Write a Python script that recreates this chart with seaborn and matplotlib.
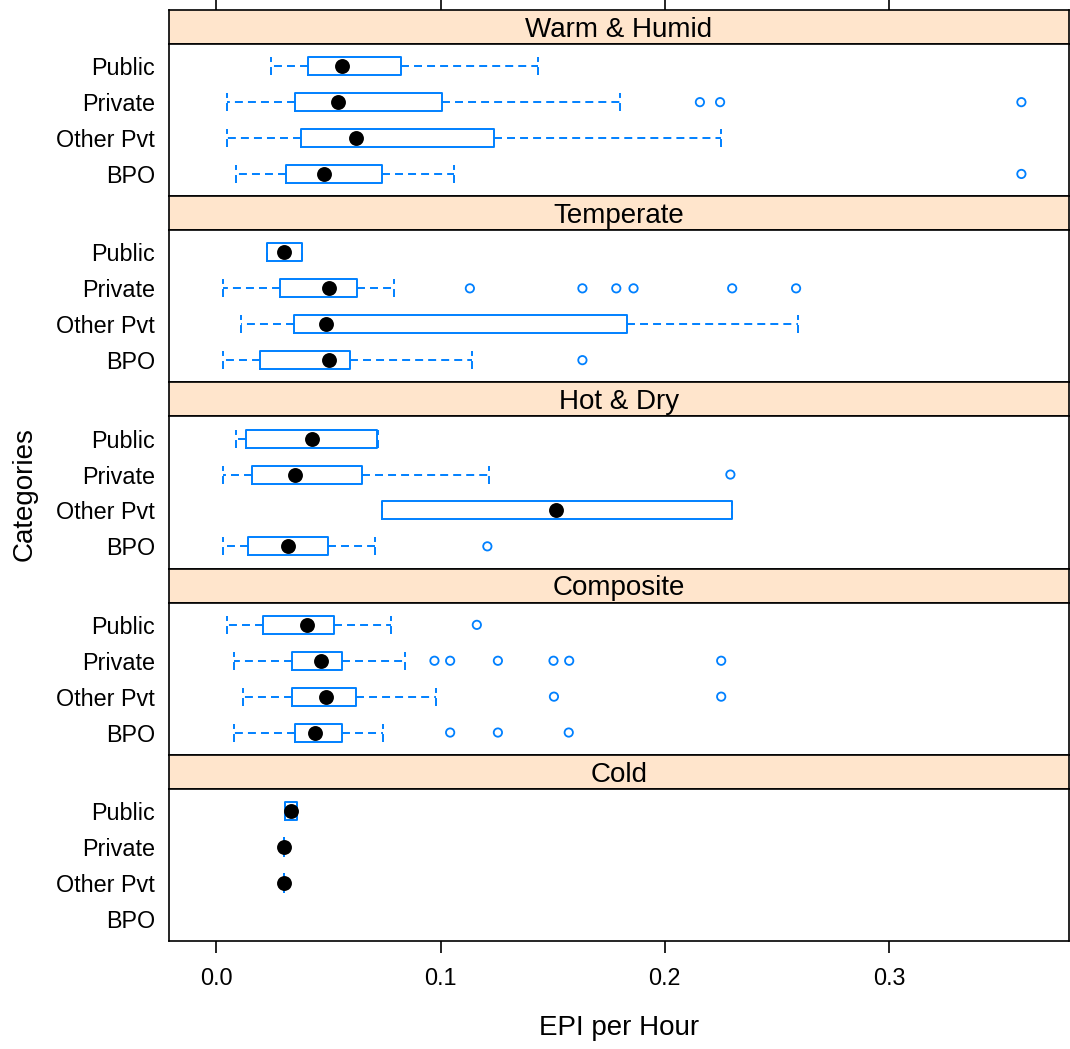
import numpy as np
import pandas as pd
import matplotlib
matplotlib.use("Agg")
import matplotlib.pyplot as plt
import seaborn as sns

# ---------------- data ----------------
regions = ["Warm & Humid", "Temperate", "Hot & Dry", "Composite", "Cold"]
categories = ["BPO", "Other Pvt", "Private", "Public"]   # bottom -> top
xticks = [0.0, 0.1, 0.2, 0.3]
xtick_labels = ["0.0", "0.1", "0.2", "0.3"]

# rows follow `regions`, columns follow `categories`
whisker_low = [
    [0.0088, 0.0049, 0.0049, 0.0243],
    [0.0029, 0.0109, 0.0029, 0.0228],
    [0.0029, 0.0738, 0.0029, 0.0088],
    [0.0078, 0.0119, 0.0078, 0.0049],
    [np.nan, 0.0303, 0.0303, 0.0305],
]
quart_low = [
    [0.0313, 0.0378, 0.0352, 0.0411],
    [0.0197, 0.0347, 0.0282, 0.0228],
    [0.0140, 0.0738, 0.0158, 0.0132],
    [0.0352, 0.0339, 0.0339, 0.0210],
    [np.nan, 0.0303, 0.0303, 0.0305],
]
medians = [
    [0.0481, 0.0621, 0.0544, 0.0559],
    [0.0502, 0.0489, 0.0502, 0.0300],
    [0.0321, 0.1514, 0.0352, 0.0425],
    [0.0442, 0.0489, 0.0468, 0.0404],
    [np.nan, 0.0303, 0.0303, 0.0331],
]
quart_high = [
    [0.0738, 0.1240, 0.1007, 0.0823],
    [0.0595, 0.1830, 0.0629, 0.0383],
    [0.0500, 0.2301, 0.0650, 0.0715],
    [0.0559, 0.0621, 0.0559, 0.0525],
    [np.nan, 0.0303, 0.0303, 0.0362],
]
whisker_high = [
    [0.1061, 0.2252, 0.1799, 0.1437],
    [0.1139, 0.2594, 0.0792, 0.0383],
    [0.0707, 0.2301, 0.1217, 0.0722],
    [0.0745, 0.0981, 0.0841, 0.0779],
    [np.nan, 0.0303, 0.0303, 0.0362],
]
outliers_warm = [[0.3591], [], [0.2157, 0.2247, 0.3591], []]
outliers_temperate = [[0.1633], [], [0.1131, 0.1633, 0.1784, 0.1861, 0.2301, 0.2586], []]
outliers_hotdry = [[0.1209], [], [0.2293], []]
outliers_composite = [[0.1043, 0.1256, 0.1572], [0.1506, 0.2252],
                      [0.0973, 0.1043, 0.1256, 0.1504, 0.1574, 0.2252], [0.1162]]
outliers_cold = [[], [], [], []]
outliers = [outliers_warm, outliers_temperate, outliers_hotdry,
            outliers_composite, outliers_cold]

# ---------------- style ----------------
sns.set_theme(style="white")
plt.rcParams['font.family'] = ['Liberation Sans', 'DejaVu Sans']

BLUE = "#0080ff"
STRIP = "#ffe5cc"
TICK_FS = 16.8
LAB_FS = 20
LW = 1.2
BOX_LW = 1.4

W, H = 1070, 1049
fig = plt.figure(figsize=(W / 100, H / 100), dpi=100)
fig.patch.set_facecolor("white")

left_px, right_px = 169, 1069
top_px, strip_h, step = 10, 34, 186.2
x0_px, px_per_unit = 216.3, 2242.0
xlim = ((left_px - x0_px) / px_per_unit, (right_px - x0_px) / px_per_unit)
ypos = np.arange(1, len(categories) + 1)

dash = (0, (4.1, 2.6))

for i, region in enumerate(regions):
    s_top = top_px + i * step
    s_bot = s_top + strip_h
    p_bot = s_top + step
    sax = fig.add_axes([left_px / W, 1 - s_bot / H, (right_px - left_px) / W, strip_h / H])
    pax = fig.add_axes([left_px / W, 1 - p_bot / H, (right_px - left_px) / W, (p_bot - s_bot) / H])

    # strip
    sax.set_facecolor(STRIP)
    sax.set_xlim(*xlim)
    sax.set_ylim(0, 1)
    sax.set_yticks([])
    sax.text(0.5, 0.42, region, transform=sax.transAxes, ha="center", va="center",
             fontsize=LAB_FS, color="black")
    if i == 0:
        sax.set_xticks(xticks)
        sax.tick_params(axis="x", which="both", bottom=False, top=True, labelbottom=False,
                        labeltop=False, direction="out", length=7.2, width=LW, color="black")
    else:
        sax.set_xticks([])
    for sp in sax.spines.values():
        sp.set_color("black")
        sp.set_linewidth(LW)

    # boxes
    stats, pos = [], []
    for j, cat in enumerate(categories):
        if np.isnan(medians[i][j]):
            continue
        stats.append(dict(whislo=whisker_low[i][j], q1=quart_low[i][j], med=medians[i][j],
                          q3=quart_high[i][j], whishi=whisker_high[i][j], fliers=[], label=cat))
        pos.append(ypos[j])
    pax.bxp(stats, positions=pos, widths=0.5, orientation="horizontal", showfliers=False,
            capwidths=0.5, manage_ticks=False,
            boxprops=dict(color=BLUE, linewidth=BOX_LW),
            whiskerprops=dict(color=BLUE, linewidth=BOX_LW, linestyle=dash),
            capprops=dict(color=BLUE, linewidth=BOX_LW, linestyle=dash),
            medianprops=dict(visible=False))

    med_df = pd.DataFrame({"value": [medians[i][j] for j in range(len(categories))],
                           "pos": ypos}).dropna()
    sns.scatterplot(data=med_df, x="value", y="pos", ax=pax, color="black", s=115,
                    marker="o", linewidth=0, zorder=5, legend=False)

    out_vals, out_pos = [], []
    for j in range(len(categories)):
        for v in outliers[i][j]:
            out_vals.append(v)
            out_pos.append(ypos[j])
    if out_vals:
        out_df = pd.DataFrame({"value": out_vals, "pos": out_pos})
        sns.scatterplot(data=out_df, x="value", y="pos", ax=pax, marker="o",
                        facecolor="none", edgecolor=BLUE, s=36, linewidth=1.3,
                        zorder=4, legend=False)

    pax.set_xlim(*xlim)
    pax.set_ylim(0.38, 4.62)
    pax.set_xlabel("")
    pax.set_ylabel("")
    pax.set_yticks(ypos)
    pax.set_yticklabels(categories, fontsize=TICK_FS, color="black")
    pax.tick_params(axis="y", length=0, pad=10)
    if i == len(regions) - 1:
        pax.set_xticks(xticks)
        pax.set_xticklabels(xtick_labels, fontsize=TICK_FS, color="black")
        pax.tick_params(axis="x", bottom=True, direction="out", length=8.6, width=LW,
                        color="black", pad=10)
    else:
        pax.set_xticks([])
    pax.grid(False)
    for sp in pax.spines.values():
        sp.set_color("black")
        sp.set_linewidth(LW)

fig.text(619.5 / W, 1 - 1028 / H, "EPI per Hour", ha="center", va="center",
         fontsize=LAB_FS, color="black")
fig.text(25 / W, 1 - 494 / H, "Categories", ha="center", va="center", rotation=90,
         fontsize=LAB_FS, color="black")

fig.savefig("out.png", dpi=100, facecolor="white")
